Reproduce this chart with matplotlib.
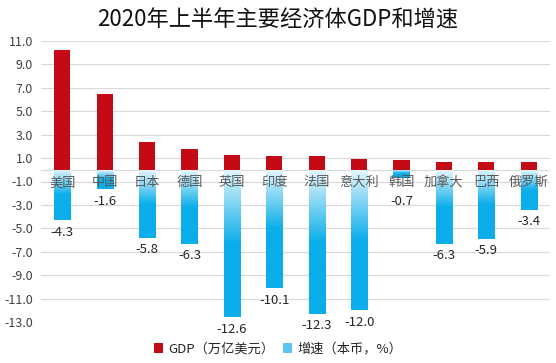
import matplotlib
matplotlib.use("Agg")
import matplotlib.pyplot as plt
import numpy as np
from matplotlib.patches import Patch
from matplotlib.colors import LinearSegmentedColormap

plt.rcParams['font.family'] = ['Noto Sans CJK SC', 'DejaVu Sans']

countries = ["美国", "中国", "日本", "德国", "英国", "印度", "法国", "意大利", "韩国", "加拿大", "巴西", "俄罗斯"]
gdp = [10.2, 6.5, 2.4, 1.8, 1.3, 1.2, 1.2, 0.9, 0.8, 0.7, 0.7, 0.7]
growth = [-4.3, -1.6, -5.8, -6.3, -12.6, -10.1, -12.3, -12.0, -0.7, -6.3, -5.9, -3.4]
yticks = [11, 9, 7, 5, 3, 1, -1, -3, -5, -7, -9, -11, -13]

red = "#C40A14"
blue = "#0BAEEA"

fig = plt.figure(figsize=(5.56, 3.63), dpi=100)
ax = fig.add_axes([0.074, 0.113, 0.915, 0.774])

x = np.arange(len(countries))
w = 0.38
ax.bar(x, gdp, width=w, color=red, zorder=3)
gbars = ax.bar(x, growth, width=w, color=blue, zorder=3)

cmap = LinearSegmentedColormap.from_list("g", [(0, "#E6F6FC"), (0.5, blue), (1, blue)])
grad = np.linspace(0, 1, 256).reshape(-1, 1)
for b in gbars:
    x0 = b.get_x()
    x1 = x0 + b.get_width()
    y1 = b.get_height()
    im = ax.imshow(grad, cmap=cmap, aspect='auto', extent=(x0, x1, y1, 0),
                   origin='upper', zorder=3.5)
    im.set_clip_path(b)
    b.set_facecolor('none')

for xi, v in zip(x, growth):
    ax.annotate(f"{v:.1f}", (xi, min(v, -1.7)), xytext=(0, -4), textcoords='offset points',
                ha='center', va='top', fontsize=9.5, color="#262626",
                annotation_clip=False, zorder=5)

for xi, c in zip(x, countries):
    ax.text(xi, -1.1, c, ha='center', va='center', fontsize=9.5, color="#595959", zorder=6)

ax.set_ylim(-13, 11)
ax.set_xlim(-0.5, len(countries) - 0.5)
ax.set_yticks(yticks)
ax.set_yticklabels([f"{t:.1f}" for t in yticks], fontsize=9, color="#404040")
ax.set_xticks([])
ax.tick_params(axis='y', length=0, pad=6)
ax.grid(axis='y', color="#D9D9D9", linewidth=0.8, zorder=0)
ax.axhline(0, color="#D9D9D9", linewidth=0.8, zorder=1)
for s in ax.spines.values():
    s.set_visible(False)

fig.suptitle("2020年上半年主要经济体GDP和增速", fontsize=16, y=0.975, color="#111111")

handles = [Patch(facecolor=red, label="GDP（万亿美元）"),
           Patch(facecolor="#5CC6EE", label="增速（本币，%）")]
fig.legend(handles=handles, loc='center', bbox_to_anchor=(0.5, 0.038), ncol=2,
           frameon=False, fontsize=9.5, handlelength=0.7, handleheight=0.7,
           handletextpad=0.4, columnspacing=0.6, labelcolor="#262626")

fig.savefig("out.png", dpi=100)
